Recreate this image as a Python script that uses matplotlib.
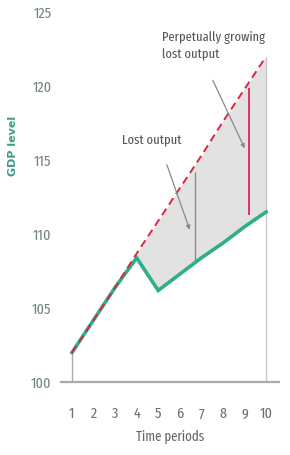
import matplotlib
matplotlib.use("Agg")
import matplotlib.pyplot as plt
import numpy as np

periods = [1, 2, 3, 4, 5, 6, 7, 8, 9, 10]
trend = [102.0, 104.2, 106.4, 108.7, 110.9, 113.1, 115.3, 117.6, 119.8, 122.0]
actual = [102.0, 104.2, 106.4, 108.4, 106.2, 107.3, 108.4, 109.4, 110.5, 111.5]
yticks = [100, 105, 110, 115, 120, 125]
gap_lost_x = 6.69
gap_lost = (108.1, 114.2)
gap_perp_x = 9.19
gap_perp = (111.3, 119.9)

fam = ['Fira Sans Extra Condensed', 'DejaVu Sans']

fig = plt.figure(figsize=(2.9, 4.55), dpi=100)
ax = fig.add_axes([0.211, 0.160, 0.751, 0.823])
ax.set_xlim(0.5, 10.6)
ax.set_ylim(100, 125.3)

p = np.array(periods)
t = np.array(trend)
a = np.array(actual)
m = p >= 4
ax.fill_between(p[m], a[m], t[m], color='#e2e2e2', lw=0, zorder=1)

ax.vlines(periods[-1], 100, trend[-1], color='#c8c8c8', lw=1, zorder=1.5)
ax.vlines(periods[0], 100, trend[0], color='#aaaaaa', lw=1, zorder=1.5)
ax.vlines(gap_lost_x, gap_lost[0], gap_lost[1], color='#8c8c8c', lw=1, zorder=2)
ax.vlines(gap_perp_x, gap_perp[0], gap_perp[1], color='#e0245a', lw=1.3, zorder=2)

ax.plot(periods, actual, color='#2fae8a', lw=2.6, solid_joinstyle='miter', zorder=3)
ax.plot(periods, trend, color='#d8283c', lw=1.4, ls=(0, (4, 2.5)), zorder=4)

for s in ['left', 'right', 'top']:
    ax.spines[s].set_visible(False)
ax.spines['bottom'].set_color('#aaaaaa')
ax.spines['bottom'].set_linewidth(1.6)

ax.set_xticks(periods)
ax.set_xticklabels([str(v) for v in periods], family=fam, fontsize=11, color='#707070')
ax.set_yticks(yticks)
ax.set_yticklabels([str(v) for v in yticks], family=fam, fontsize=11, color='#72867f')
ax.tick_params(axis='x', length=0, pad=18)
ax.tick_params(axis='y', length=0, pad=7)

ax.set_xlabel('Time periods', family=fam, fontsize=10, color='#666666', labelpad=6)
fig.text(0.045, 0.68, 'GDP level', rotation=90, ha='center', va='center',
         fontsize=8, fontweight='bold', color='#3a9c86', family='DejaVu Sans')

ax.text(4.68, 116.35, 'Lost output', ha='center', va='center',
        family=fam, fontsize=9.8, color='#555555')
ax.annotate('', xy=(6.46, 110.3), xytext=(5.40, 114.7),
            arrowprops=dict(arrowstyle='-|>', color='#8a8a8a', lw=0.9,
                            mutation_scale=6, shrinkA=0, shrinkB=0), zorder=5)
ax.text(5.17, 122.7, 'Perpetually growing\nlost output', ha='left', va='center',
        family=fam, fontsize=9.8, color='#555555', linespacing=1.45)
ax.annotate('', xy=(9.01, 115.8), xytext=(7.53, 120.4),
            arrowprops=dict(arrowstyle='-|>', color='#8a8a8a', lw=0.9,
                            mutation_scale=6, shrinkA=0, shrinkB=0), zorder=5)

fig.savefig('out.png', dpi=100)
